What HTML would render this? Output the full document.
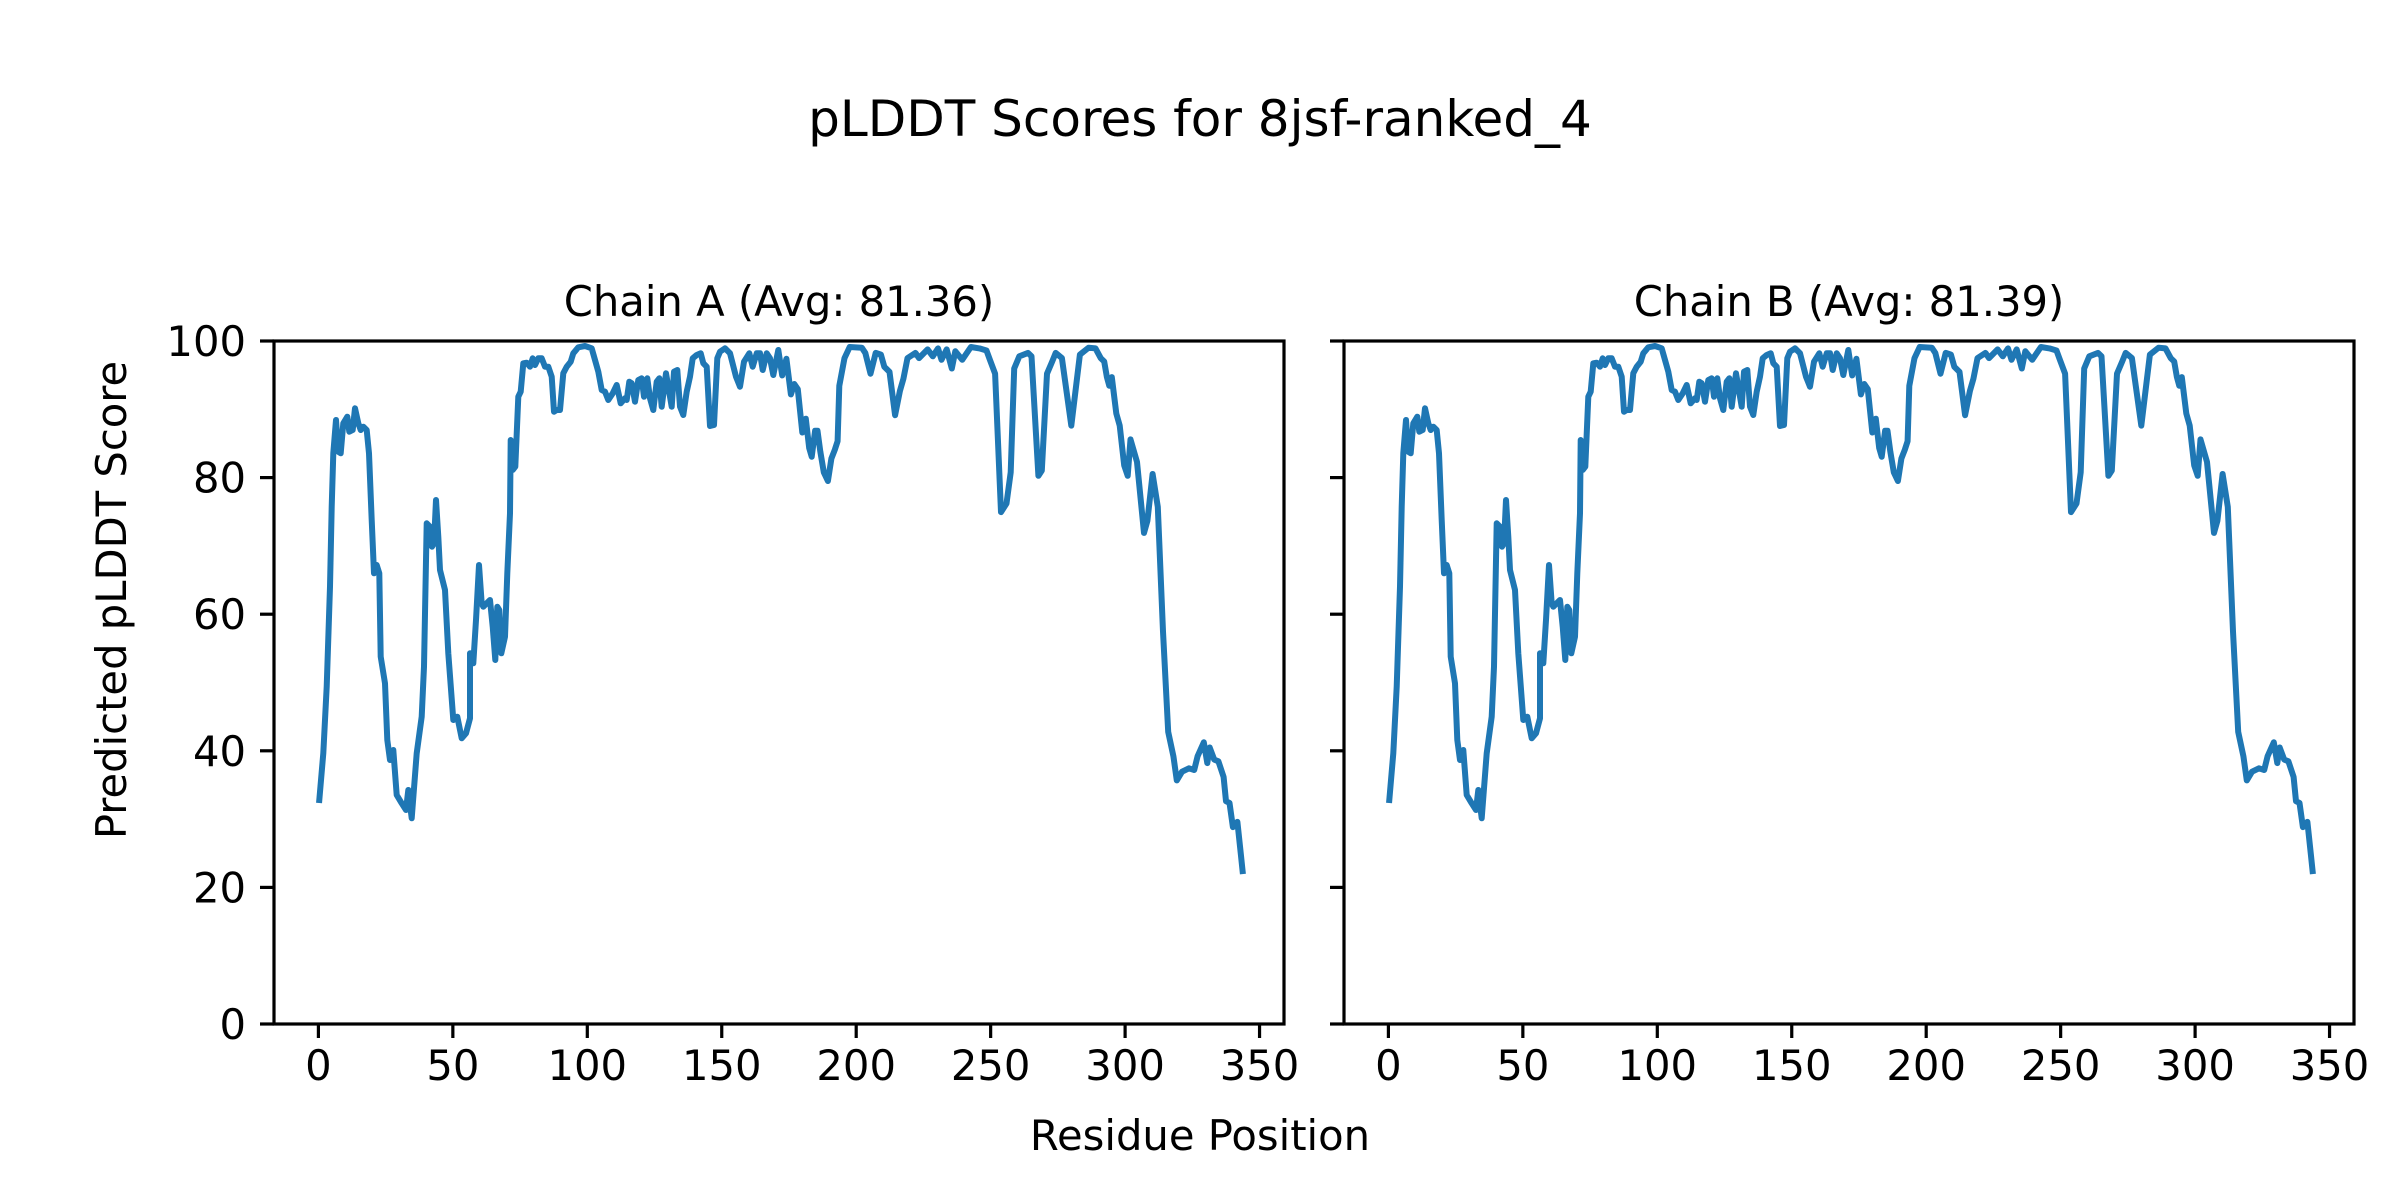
<!DOCTYPE html>
<html><head><meta charset="utf-8"><style>
html,body{margin:0;padding:0;background:#fff;}
svg{display:block;}
text{font-family:"DejaVu Sans","Liberation Sans",sans-serif;fill:#000;}
</style></head><body>
<svg id="s" width="2400" height="1200" viewBox="0 0 2400 1200" xmlns="http://www.w3.org/2000/svg">
<rect width="2400" height="1200" fill="#fff"/>
<text x="1200" y="136" font-size="50" text-anchor="middle">pLDDT Scores for 8jsf-ranked_4</text>
<text x="779" y="316" font-size="41.7" text-anchor="middle">Chain A (Avg: 81.36)</text>
<text x="1849" y="316" font-size="41.7" text-anchor="middle">Chain B (Avg: 81.39)</text>
<text x="1200" y="1150" font-size="41.7" text-anchor="middle">Residue Position</text>
<text x="0" y="0" font-size="41.7" text-anchor="middle" transform="translate(126,600) rotate(-90)">Predicted pLDDT Score</text>
<g id="g"></g>
</svg>
<script>
var z1=[[178,1440],[190,1300],[200,1100],[210,800],[215,560],[220,400],[228,300],[235,395],[242,400],[250,310],[262,290],[268,335],[278,330],[285,265],[295,310],[302,330],[310,320],[320,330],[327,400],[335,600],[342,760],[350,735],[358,760],[362,1010],[375,1090],[382,1260],[390,1320],[400,1290],[410,1425],[425,1450],[438,1470],[445,1410],[455,1495],[470,1300],[485,1190],[492,1040],[500,610],[510,620],[516,680],[522,670],[528,540],[535,650],[540,750],[555,810],[565,1000],[580,1200],[592,1190],[605,1255],[618,1240],[630,1195],[630,1000],[640,1030],[648,900],[657,735],[665,850],[670,860],[680,850],[690,840],[698,920],[706,1020],[712,860],[718,870],[724,1000],[735,950],[742,760],[750,580],[752,360],[758,450],[766,440],[775,230],[782,215],[790,130],[800,128],[810,140],[818,115],[825,135],[835,115],[845,115],[855,140],[865,140],[875,170],[882,275],[890,270],[900,270],[910,160],[920,140],[932,125],[940,100],[955,82],[975,78],[995,85],[1005,120],[1015,155],[1025,210],[1035,215],[1045,240],[1058,220],[1070,195],[1082,250],[1095,235],[1100,240],[1108,185],[1115,190],[1125,245],[1135,180],[1145,175],[1152,230],[1162,175],[1170,235],[1180,270],[1190,185],[1198,175],[1205,260],[1218,160],[1225,200],[1235,260],[1242,155],[1252,150],[1260,260],[1270,285],[1280,215],[1290,170],[1298,115],[1310,105],[1322,100],[1330,130],[1340,140],[1350,318],[1362,315],[1372,115],[1380,95],[1395,85],[1410,100],[1428,170],[1440,200],[1452,125],[1468,100],[1478,140],[1490,100],[1500,100],[1508,150],[1520,100],[1530,115],[1540,165],[1555,90]];
var z2=[[70,160],[82,112],[95,215],[105,185],[115,200],[128,325],[138,285],[148,370],[155,395],[165,320],[172,320],[180,380],[190,440],[202,465],[212,400],[222,375],[230,350],[235,190],[250,110],[265,78],[300,80],[310,95],[325,155],[340,95],[355,100],[365,135],[380,150],[396,275],[410,205],[420,170],[432,110],[455,95],[465,110],[490,85],[505,105],[520,82],[530,115],[545,85],[560,140],[570,90],[590,115],[615,78],[640,82],[660,88],[670,115],[685,155],[702,555],[718,530],[730,440],[740,140],[755,105],[780,95],[790,105],[810,450],[820,435],[835,155],[850,120],[860,95],[878,110],[905,305],[930,100],[955,80],[975,82],[990,110],[1000,120],[1008,165],[1015,190],[1022,165],[1035,270],[1045,305],[1058,420],[1068,450],[1076,345],[1095,410],[1115,615],[1125,580],[1140,445],[1155,540],[1170,900],[1185,1190],[1200,1260],[1210,1330],[1225,1305],[1245,1295],[1260,1300],[1270,1260],[1288,1220],[1298,1280],[1305,1235],[1318,1270],[1330,1275],[1345,1320],[1352,1390],[1362,1395],[1372,1465],[1385,1450],[1395,1545],[1400,1592]];
var pts=[];
z1.forEach(function(p){pts.push([260+p[0]/3,320+p[1]/3]);});
var s2=1560/540;
z2.forEach(function(p){pts.push([758+p[0]/s2,320+p[1]/s2]);});
var NS="http://www.w3.org/2000/svg",g=document.getElementById('g');
function el(t,a,txt){var e=document.createElementNS(NS,t);for(var k in a)e.setAttribute(k,a[k]);if(txt!==undefined)e.textContent=txt;g.appendChild(e);return e;}
[0,1070].forEach(function(off,idx){
  var d=pts.map(function(p,i){return (i?'L':'M')+(p[0]+off).toFixed(1)+' '+p[1].toFixed(1);}).join(' ');
  el('path',{d:d,fill:'none',stroke:'#1f77b4','stroke-width':6,'stroke-linejoin':'round','stroke-linecap':'square'});
  el('rect',{x:274+off,y:341,width:1010,height:683,fill:'none',stroke:'#000','stroke-width':3.2});
  for(var k=0;k<=7;k++){var x=318.4+off+k*50*2.689;
    el('line',{x1:x,y1:1024,x2:x,y2:1038,stroke:'#000','stroke-width':3.2});
    el('text',{x:x,y:1080,'font-size':41.7,'text-anchor':'middle'},String(k*50));}
  for(var v=0;v<=100;v+=20){var y=1024-6.83*v;
    el('line',{x1:274+off,y1:y,x2:260+off,y2:y,stroke:'#000','stroke-width':3.2});
    if(idx==0)el('text',{x:246,y:y+15,'font-size':41.7,'text-anchor':'end'},String(v));}
});
</script>
</body></html>
